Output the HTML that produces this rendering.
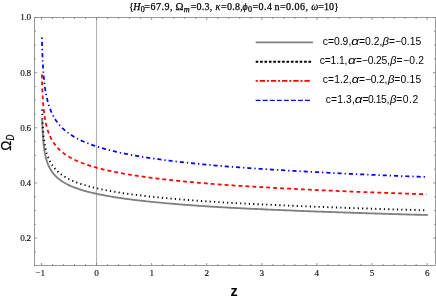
<!DOCTYPE html>
<html><head><meta charset="utf-8"><title>plot</title><style>html,body{margin:0;padding:0;background:#fff;}svg{display:block;}</style></head><body>
<svg width="436" height="299" viewBox="0 0 436 299">
<rect width="436" height="299" fill="#fff"/>
<line x1="96.55" y1="17.5" x2="96.55" y2="265.5" stroke="#adadad" stroke-width="1"/>
<path d="M42.22 119.00 L42.22 119.00 L42.22 119.00 L42.22 119.01 L42.22 119.02 L42.22 119.03 L42.22 119.05 L42.22 119.08 L42.22 119.12 L42.22 119.17 L42.22 119.24 L42.23 119.31 L42.23 119.41 L42.23 119.51 L42.24 119.64 L42.24 119.78 L42.24 119.95 L42.25 120.13 L42.25 120.33 L42.26 120.56 L42.27 120.81 L42.27 121.08 L42.28 121.37 L42.29 121.69 L42.30 122.02 L42.31 122.38 L42.33 122.77 L42.34 123.17 L42.35 123.60 L42.37 124.04 L42.38 124.51 L42.40 125.00 L42.42 125.50 L42.44 126.03 L42.46 126.57 L42.48 127.12 L42.50 127.69 L42.53 128.28 L42.55 128.87 L42.58 129.48 L42.61 130.10 L42.64 130.73 L42.67 131.37 L42.70 132.01 L42.74 132.66 L42.77 133.31 L42.81 133.97 L42.85 134.64 L42.89 135.30 L42.93 135.97 L42.98 136.64 L43.02 137.31 L43.07 137.98 L43.12 138.65 L43.17 139.32 L43.23 139.98 L43.28 140.64 L43.34 141.30 L43.40 141.96 L43.47 142.62 L43.53 143.27 L43.60 143.91 L43.67 144.55 L43.74 145.19 L43.81 145.82 L43.89 146.45 L43.96 147.07 L44.04 147.68 L44.13 148.30 L44.21 148.90 L44.30 149.50 L44.39 150.09 L44.48 150.68 L44.58 151.26 L44.68 151.84 L44.78 152.41 L44.88 152.97 L44.99 153.53 L45.10 154.08 L45.21 154.63 L45.33 155.17 L45.44 155.70 L45.57 156.23 L45.69 156.75 L45.82 157.27 L45.95 157.78 L46.08 158.28 L46.22 158.78 L46.36 159.27 L46.50 159.76 L46.64 160.24 L46.79 160.72 L46.95 161.19 L47.10 161.66 L47.26 162.12 L47.42 162.58 L47.59 163.03 L47.76 163.48 L47.93 163.92 L48.11 164.35 L48.29 164.78 L48.47 165.21 L48.66 165.63 L48.85 166.05 L49.05 166.46 L49.25 166.87 L49.45 167.27 L49.65 167.67 L49.87 168.07 L50.08 168.46 L50.30 168.85 L50.52 169.23 L50.75 169.61 L50.98 169.98 L51.21 170.35 L51.45 170.72 L51.69 171.08 L51.94 171.44 L52.19 171.80 L52.45 172.15 L52.71 172.50 L52.97 172.84 L53.24 173.18 L53.51 173.52 L53.79 173.86 L54.07 174.19 L54.36 174.51 L54.65 174.84 L54.95 175.16 L55.25 175.48 L55.55 175.79 L55.86 176.11 L56.18 176.42 L56.50 176.72 L56.82 177.03 L57.15 177.33 L57.49 177.62 L57.83 177.92 L58.17 178.21 L58.52 178.50 L58.88 178.79 L59.23 179.07 L59.60 179.35 L59.97 179.63 L60.34 179.91 L60.72 180.18 L61.11 180.45 L61.50 180.72 L61.90 180.99 L62.30 181.25 L62.71 181.52 L63.12 181.78 L63.54 182.03 L63.96 182.29 L64.39 182.54 L64.82 182.79 L65.26 183.04 L65.71 183.29 L66.16 183.54 L66.62 183.78 L67.08 184.02 L67.55 184.26 L68.03 184.50 L68.51 184.73 L68.99 184.96 L69.49 185.19 L69.99 185.42 L70.49 185.65 L71.00 185.88 L71.52 186.10 L72.04 186.32 L72.57 186.54 L73.11 186.76 L73.65 186.98 L74.20 187.20 L74.75 187.41 L75.31 187.62 L75.88 187.83 L76.45 188.04 L77.03 188.25 L77.62 188.45 L78.21 188.66 L78.81 188.86 L79.42 189.06 L80.03 189.26 L80.65 189.46 L81.28 189.66 L81.91 189.85 L82.55 190.05 L83.20 190.24 L83.85 190.43 L84.51 190.62 L85.18 190.81 L85.86 191.00 L86.54 191.18 L87.23 191.37 L87.92 191.55 L88.63 191.73 L89.34 191.92 L90.05 192.09 L90.78 192.27 L91.51 192.45 L92.25 192.63 L93.00 192.80 L93.75 192.98 L94.51 193.15 L95.28 193.32 L96.06 193.49 L96.84 193.66 L97.63 193.83 L98.43 193.99 L99.24 194.16 L100.06 194.33 L100.88 194.49 L101.71 194.66 L102.55 194.82 L103.39 194.99 L104.25 195.15 L105.11 195.31 L105.98 195.47 L106.85 195.63 L107.74 195.79 L108.63 195.95 L109.53 196.11 L110.44 196.26 L111.36 196.42 L112.29 196.57 L113.22 196.73 L114.16 196.88 L115.11 197.03 L116.07 197.18 L117.04 197.33 L118.02 197.48 L119.00 197.63 L119.99 197.78 L121.00 197.93 L122.01 198.07 L123.02 198.22 L124.05 198.36 L125.09 198.51 L126.13 198.65 L127.19 198.79 L128.25 198.93 L129.32 199.07 L130.40 199.21 L131.49 199.35 L132.58 199.49 L133.69 199.63 L134.81 199.77 L135.93 199.90 L137.06 200.04 L138.21 200.17 L139.36 200.31 L140.52 200.44 L141.69 200.58 L142.87 200.71 L144.06 200.84 L145.26 200.97 L146.46 201.10 L147.68 201.23 L148.91 201.36 L150.14 201.49 L151.39 201.62 L152.64 201.75 L153.91 201.87 L155.18 202.00 L156.46 202.12 L157.76 202.25 L159.06 202.37 L160.37 202.50 L161.70 202.62 L163.03 202.74 L164.37 202.86 L165.72 202.99 L167.09 203.11 L168.46 203.23 L169.84 203.35 L171.23 203.47 L172.63 203.59 L174.05 203.70 L175.47 203.82 L176.90 203.94 L178.35 204.06 L179.80 204.17 L181.26 204.29 L182.74 204.40 L184.22 204.52 L185.72 204.63 L187.22 204.75 L188.74 204.86 L190.26 204.97 L191.80 205.09 L193.35 205.20 L194.90 205.31 L196.47 205.42 L198.05 205.53 L199.64 205.64 L201.24 205.75 L202.86 205.86 L204.48 205.97 L206.11 206.08 L207.76 206.19 L209.41 206.29 L211.08 206.40 L212.76 206.51 L214.44 206.61 L216.14 206.72 L217.85 206.82 L219.58 206.93 L221.31 207.03 L223.05 207.13 L224.81 207.22 L226.58 207.32 L228.35 207.42 L230.14 207.51 L231.95 207.61 L233.76 207.70 L235.58 207.80 L237.42 207.89 L239.27 207.99 L241.12 208.08 L242.99 208.17 L244.88 208.27 L246.77 208.36 L248.68 208.45 L250.59 208.54 L252.52 208.63 L254.47 208.72 L256.42 208.81 L258.38 208.90 L260.36 208.99 L262.35 209.08 L264.35 209.17 L266.36 209.26 L268.39 209.35 L270.43 209.44 L272.48 209.52 L274.54 209.61 L276.61 209.70 L278.70 209.78 L280.80 209.87 L282.91 209.96 L285.03 210.06 L287.17 210.15 L289.32 210.24 L291.48 210.33 L293.65 210.42 L295.84 210.51 L298.04 210.60 L300.25 210.69 L302.48 210.77 L304.71 210.86 L306.96 210.95 L309.22 211.04 L311.50 211.13 L313.79 211.22 L316.09 211.30 L318.40 211.39 L320.73 211.48 L323.07 211.56 L325.43 211.65 L327.79 211.73 L330.17 211.82 L332.57 211.91 L334.97 211.99 L337.39 212.08 L339.82 212.16 L342.27 212.24 L344.73 212.33 L347.20 212.41 L349.69 212.50 L352.19 212.58 L354.70 212.66 L357.23 212.74 L359.77 212.83 L362.32 212.91 L364.89 212.99 L367.47 213.07 L370.07 213.16 L372.68 213.24 L375.30 213.32 L377.93 213.40 L380.59 213.48 L383.25 213.56 L385.93 213.64 L388.62 213.72 L391.33 213.80 L394.05 213.88 L396.78 213.96 L399.53 214.04 L402.29 214.12 L405.07 214.20 L407.86 214.27 L410.67 214.35 L413.49 214.43 L416.32 214.51 L419.17 214.59 L422.03 214.66 L424.91 214.73 L427.80 214.80" fill="none" stroke="#808080" stroke-width="1.85" transform="translate(0 0.2)"/>
<path d="M42.11 109.50 L42.11 109.50 L42.11 109.50 L42.11 109.51 L42.11 109.51 L42.11 109.53 L42.11 109.55 L42.11 109.58 L42.11 109.62 L42.11 109.67 L42.11 109.73 L42.12 109.80 L42.12 109.89 L42.12 110.00 L42.12 110.12 L42.13 110.26 L42.13 110.41 L42.14 110.59 L42.14 110.79 L42.15 111.01 L42.16 111.25 L42.16 111.51 L42.17 111.80 L42.18 112.11 L42.19 112.44 L42.20 112.79 L42.21 113.17 L42.23 113.57 L42.24 113.99 L42.26 114.43 L42.27 114.89 L42.29 115.38 L42.31 115.88 L42.33 116.41 L42.35 116.95 L42.37 117.50 L42.39 118.08 L42.41 118.67 L42.44 119.27 L42.47 119.89 L42.50 120.52 L42.53 121.16 L42.56 121.81 L42.59 122.47 L42.62 123.14 L42.66 123.82 L42.70 124.50 L42.74 125.18 L42.78 125.87 L42.82 126.57 L42.86 127.26 L42.91 127.96 L42.96 128.66 L43.01 129.36 L43.06 130.06 L43.12 130.76 L43.17 131.46 L43.23 132.15 L43.29 132.85 L43.35 133.54 L43.42 134.23 L43.48 134.91 L43.55 135.59 L43.62 136.27 L43.69 136.94 L43.77 137.61 L43.85 138.27 L43.93 138.92 L44.01 139.58 L44.10 140.22 L44.18 140.86 L44.27 141.50 L44.37 142.12 L44.46 142.75 L44.56 143.36 L44.66 143.97 L44.77 144.58 L44.87 145.18 L44.98 145.77 L45.09 146.36 L45.21 146.94 L45.32 147.51 L45.45 148.08 L45.57 148.64 L45.70 149.20 L45.83 149.74 L45.96 150.29 L46.09 150.83 L46.23 151.36 L46.38 151.88 L46.52 152.40 L46.67 152.92 L46.82 153.43 L46.98 153.93 L47.14 154.43 L47.30 154.92 L47.46 155.40 L47.63 155.89 L47.81 156.36 L47.98 156.83 L48.16 157.30 L48.34 157.76 L48.53 158.21 L48.72 158.66 L48.92 159.11 L49.12 159.55 L49.32 159.98 L49.52 160.41 L49.73 160.84 L49.95 161.26 L50.16 161.68 L50.39 162.09 L50.61 162.50 L50.84 162.90 L51.08 163.30 L51.31 163.69 L51.56 164.08 L51.80 164.47 L52.05 164.85 L52.31 165.23 L52.57 165.61 L52.83 165.98 L53.10 166.35 L53.37 166.71 L53.65 167.07 L53.93 167.43 L54.22 167.78 L54.51 168.13 L54.80 168.47 L55.10 168.82 L55.41 169.15 L55.72 169.49 L56.03 169.82 L56.35 170.15 L56.67 170.48 L57.00 170.80 L57.33 171.12 L57.67 171.44 L58.02 171.75 L58.36 172.06 L58.72 172.37 L59.08 172.67 L59.44 172.98 L59.81 173.28 L60.18 173.57 L60.56 173.87 L60.95 174.16 L61.34 174.45 L61.73 174.73 L62.13 175.01 L62.54 175.30 L62.95 175.57 L63.37 175.85 L63.79 176.12 L64.22 176.39 L64.65 176.66 L65.09 176.93 L65.53 177.19 L65.98 177.46 L66.44 177.72 L66.90 177.97 L67.37 178.23 L67.84 178.48 L68.32 178.73 L68.81 178.98 L69.30 179.23 L69.80 179.47 L70.30 179.72 L70.81 179.96 L71.32 180.20 L71.85 180.43 L72.37 180.67 L72.91 180.90 L73.45 181.13 L74.00 181.36 L74.55 181.59 L75.11 181.82 L75.67 182.04 L76.25 182.26 L76.82 182.49 L77.41 182.70 L78.00 182.92 L78.60 183.14 L79.20 183.35 L79.82 183.57 L80.43 183.78 L81.06 183.99 L81.69 184.19 L82.33 184.40 L82.97 184.60 L83.63 184.81 L84.28 185.01 L84.95 185.21 L85.62 185.41 L86.30 185.61 L86.99 185.80 L87.68 186.00 L88.39 186.19 L89.09 186.38 L89.81 186.57 L90.53 186.76 L91.26 186.95 L92.00 187.14 L92.74 187.32 L93.50 187.51 L94.26 187.69 L95.02 187.87 L95.80 188.05 L96.58 188.23 L97.37 188.41 L98.16 188.59 L98.97 188.76 L99.78 188.94 L100.60 189.11 L101.43 189.29 L102.26 189.46 L103.11 189.64 L103.96 189.81 L104.82 189.98 L105.69 190.15 L106.56 190.32 L107.44 190.49 L108.33 190.65 L109.23 190.82 L110.14 190.99 L111.06 191.15 L111.98 191.31 L112.91 191.47 L113.85 191.64 L114.80 191.80 L115.75 191.95 L116.72 192.11 L117.69 192.27 L118.67 192.43 L119.66 192.58 L120.66 192.74 L121.67 192.89 L122.69 193.04 L123.71 193.20 L124.74 193.35 L125.78 193.50 L126.83 193.65 L127.89 193.80 L128.96 193.94 L130.04 194.09 L131.12 194.24 L132.22 194.38 L133.32 194.53 L134.43 194.67 L135.56 194.82 L136.69 194.96 L137.83 195.10 L138.97 195.24 L140.13 195.38 L141.30 195.52 L142.47 195.66 L143.66 195.80 L144.85 195.94 L146.06 196.07 L147.27 196.21 L148.50 196.35 L149.73 196.48 L150.97 196.61 L152.22 196.75 L153.48 196.88 L154.75 197.01 L156.03 197.14 L157.32 197.27 L158.62 197.41 L159.93 197.53 L161.25 197.66 L162.58 197.79 L163.92 197.92 L165.26 198.05 L166.62 198.17 L167.99 198.30 L169.37 198.42 L170.76 198.55 L172.16 198.67 L173.56 198.80 L174.98 198.92 L176.41 199.04 L177.85 199.17 L179.30 199.29 L180.76 199.41 L182.23 199.53 L183.71 199.65 L185.20 199.77 L186.70 199.89 L188.21 200.00 L189.73 200.12 L191.27 200.24 L192.81 200.36 L194.36 200.47 L195.93 200.59 L197.50 200.70 L199.09 200.82 L200.68 200.93 L202.29 201.05 L203.91 201.16 L205.54 201.27 L207.18 201.38 L208.83 201.50 L210.49 201.61 L212.16 201.72 L213.85 201.83 L215.54 201.94 L217.25 202.05 L218.96 202.16 L220.69 202.27 L222.43 202.37 L224.18 202.47 L225.94 202.57 L227.72 202.67 L229.50 202.77 L231.30 202.87 L233.11 202.97 L234.93 203.07 L236.76 203.17 L238.60 203.26 L240.45 203.36 L242.32 203.46 L244.19 203.55 L246.08 203.65 L247.98 203.75 L249.90 203.84 L251.82 203.94 L253.75 204.03 L255.70 204.12 L257.66 204.22 L259.63 204.31 L261.62 204.40 L263.61 204.50 L265.62 204.59 L267.64 204.68 L269.67 204.77 L271.72 204.86 L273.77 204.95 L275.84 205.04 L277.92 205.13 L280.01 205.22 L282.12 205.32 L284.24 205.41 L286.37 205.51 L288.51 205.60 L290.67 205.69 L292.83 205.79 L295.01 205.88 L297.21 205.97 L299.41 206.06 L301.63 206.16 L303.86 206.25 L306.10 206.34 L308.36 206.43 L310.63 206.52 L312.91 206.61 L315.21 206.70 L317.51 206.79 L319.83 206.88 L322.17 206.97 L324.52 207.06 L326.88 207.15 L329.25 207.24 L331.63 207.32 L334.03 207.41 L336.45 207.50 L338.87 207.59 L341.31 207.67 L343.76 207.76 L346.23 207.85 L348.71 207.93 L351.20 208.02 L353.71 208.11 L356.23 208.19 L358.76 208.28 L361.31 208.36 L363.87 208.45 L366.44 208.53 L369.03 208.61 L371.63 208.70 L374.25 208.78 L376.88 208.86 L379.52 208.95 L382.18 209.03 L384.85 209.11 L387.53 209.20 L390.23 209.28 L392.94 209.36 L395.67 209.44 L398.41 209.52 L401.16 209.60 L403.93 209.69 L406.72 209.77 L409.51 209.85 L412.33 209.93 L415.15 210.01 L417.99 210.09 L420.85 210.16 L423.72 210.24 L426.60 210.31" fill="none" stroke="#000" stroke-width="1.9" stroke-dasharray="1.2 3.16"/>
<path d="M41.89 74.50 L41.89 74.50 L41.89 74.50 L41.89 74.51 L41.89 74.52 L41.89 74.53 L41.89 74.56 L41.90 74.59 L41.90 74.64 L41.90 74.70 L41.90 74.78 L41.90 74.87 L41.90 74.97 L41.91 75.10 L41.91 75.25 L41.91 75.42 L41.92 75.61 L41.92 75.82 L41.93 76.06 L41.93 76.33 L41.94 76.62 L41.95 76.94 L41.96 77.28 L41.97 77.65 L41.98 78.05 L41.99 78.48 L42.00 78.93 L42.01 79.41 L42.03 79.92 L42.04 80.45 L42.06 81.01 L42.07 81.59 L42.09 82.19 L42.11 82.82 L42.13 83.47 L42.15 84.13 L42.18 84.82 L42.20 85.52 L42.23 86.24 L42.25 86.98 L42.28 87.73 L42.31 88.49 L42.34 89.26 L42.37 90.04 L42.41 90.83 L42.44 91.63 L42.48 92.44 L42.52 93.25 L42.56 94.07 L42.61 94.89 L42.65 95.71 L42.70 96.53 L42.74 97.36 L42.79 98.18 L42.85 99.00 L42.90 99.83 L42.96 100.65 L43.01 101.46 L43.07 102.28 L43.14 103.09 L43.20 103.90 L43.27 104.70 L43.34 105.50 L43.41 106.29 L43.48 107.08 L43.56 107.86 L43.63 108.64 L43.71 109.41 L43.80 110.17 L43.88 110.93 L43.97 111.68 L44.06 112.42 L44.15 113.16 L44.25 113.89 L44.35 114.61 L44.45 115.32 L44.55 116.03 L44.66 116.73 L44.77 117.43 L44.88 118.11 L44.99 118.79 L45.11 119.46 L45.23 120.13 L45.35 120.79 L45.48 121.44 L45.61 122.08 L45.74 122.72 L45.88 123.35 L46.02 123.97 L46.16 124.59 L46.31 125.20 L46.45 125.80 L46.61 126.40 L46.76 126.99 L46.92 127.57 L47.08 128.15 L47.25 128.72 L47.42 129.28 L47.59 129.84 L47.77 130.39 L47.95 130.94 L48.13 131.48 L48.32 132.01 L48.51 132.54 L48.70 133.06 L48.90 133.58 L49.10 134.09 L49.31 134.60 L49.52 135.10 L49.73 135.60 L49.95 136.09 L50.17 136.57 L50.40 137.05 L50.63 137.53 L50.86 138.00 L51.10 138.46 L51.34 138.92 L51.59 139.38 L51.84 139.83 L52.09 140.28 L52.35 140.72 L52.62 141.16 L52.88 141.59 L53.16 142.02 L53.43 142.45 L53.72 142.87 L54.00 143.28 L54.29 143.69 L54.59 144.10 L54.89 144.51 L55.19 144.91 L55.50 145.30 L55.82 145.70 L56.13 146.09 L56.46 146.47 L56.79 146.85 L57.12 147.23 L57.46 147.61 L57.80 147.98 L58.15 148.35 L58.50 148.71 L58.86 149.07 L59.23 149.43 L59.59 149.79 L59.97 150.14 L60.35 150.49 L60.73 150.83 L61.12 151.17 L61.52 151.51 L61.92 151.85 L62.32 152.18 L62.73 152.51 L63.15 152.84 L63.57 153.17 L64.00 153.49 L64.43 153.81 L64.87 154.13 L65.32 154.44 L65.77 154.75 L66.22 155.06 L66.69 155.37 L67.15 155.67 L67.63 155.97 L68.11 156.27 L68.59 156.57 L69.08 156.86 L69.58 157.15 L70.09 157.44 L70.60 157.73 L71.11 158.02 L71.63 158.30 L72.16 158.58 L72.69 158.86 L73.23 159.13 L73.78 159.41 L74.33 159.68 L74.89 159.95 L75.46 160.22 L76.03 160.48 L76.61 160.75 L77.20 161.01 L77.79 161.27 L78.39 161.53 L78.99 161.78 L79.60 162.04 L80.22 162.29 L80.84 162.54 L81.48 162.79 L82.11 163.04 L82.76 163.28 L83.41 163.53 L84.07 163.77 L84.74 164.01 L85.41 164.25 L86.09 164.48 L86.78 164.72 L87.47 164.95 L88.17 165.18 L88.88 165.41 L89.60 165.64 L90.32 165.87 L91.05 166.10 L91.79 166.32 L92.53 166.54 L93.28 166.76 L94.04 166.98 L94.81 167.20 L95.58 167.42 L96.37 167.63 L97.15 167.85 L97.95 168.06 L98.76 168.27 L99.57 168.48 L100.39 168.69 L101.22 168.90 L102.05 169.11 L102.90 169.32 L103.75 169.53 L104.61 169.73 L105.47 169.94 L106.35 170.14 L107.23 170.34 L108.12 170.54 L109.02 170.74 L109.93 170.94 L110.84 171.13 L111.77 171.33 L112.70 171.53 L113.64 171.72 L114.59 171.91 L115.54 172.10 L116.51 172.29 L117.48 172.48 L118.46 172.67 L119.45 172.86 L120.45 173.04 L121.46 173.23 L122.47 173.41 L123.50 173.60 L124.53 173.78 L125.57 173.96 L126.62 174.14 L127.68 174.32 L128.75 174.50 L129.83 174.67 L130.91 174.85 L132.01 175.02 L133.11 175.20 L134.22 175.37 L135.34 175.54 L136.47 175.72 L137.61 175.89 L138.76 176.06 L139.92 176.23 L141.09 176.39 L142.26 176.56 L143.45 176.73 L144.64 176.89 L145.85 177.06 L147.06 177.22 L148.28 177.39 L149.52 177.55 L150.76 177.71 L152.01 177.87 L153.27 178.03 L154.54 178.19 L155.82 178.35 L157.11 178.51 L158.41 178.66 L159.72 178.82 L161.04 178.98 L162.37 179.13 L163.71 179.28 L165.05 179.44 L166.41 179.59 L167.78 179.74 L169.16 179.89 L170.55 180.04 L171.95 180.19 L173.35 180.34 L174.77 180.49 L176.20 180.64 L177.64 180.79 L179.09 180.93 L180.55 181.08 L182.02 181.22 L183.50 181.37 L184.99 181.51 L186.49 181.66 L188.00 181.80 L189.52 181.94 L191.06 182.08 L192.60 182.22 L194.15 182.36 L195.72 182.50 L197.29 182.64 L198.88 182.78 L200.48 182.92 L202.08 183.06 L203.70 183.19 L205.33 183.33 L206.97 183.47 L208.62 183.60 L210.28 183.73 L211.95 183.87 L213.64 184.00 L215.33 184.14 L217.04 184.27 L218.76 184.40 L220.48 184.53 L222.22 184.65 L223.97 184.78 L225.74 184.90 L227.51 185.02 L229.30 185.15 L231.09 185.27 L232.90 185.39 L234.72 185.51 L236.55 185.63 L238.39 185.75 L240.24 185.87 L242.11 185.99 L243.99 186.10 L245.88 186.22 L247.78 186.34 L249.69 186.45 L251.61 186.57 L253.55 186.69 L255.50 186.80 L257.46 186.92 L259.43 187.03 L261.41 187.14 L263.41 187.26 L265.41 187.37 L267.43 187.48 L269.47 187.59 L271.51 187.70 L273.57 187.81 L275.63 187.93 L277.72 188.04 L279.81 188.14 L281.91 188.26 L284.03 188.37 L286.16 188.49 L288.30 188.60 L290.46 188.71 L292.63 188.83 L294.81 188.94 L297.00 189.05 L299.21 189.16 L301.42 189.28 L303.66 189.39 L305.90 189.50 L308.16 189.61 L310.42 189.72 L312.71 189.83 L315.00 189.94 L317.31 190.05 L319.63 190.15 L321.96 190.26 L324.31 190.37 L326.67 190.48 L329.04 190.58 L331.43 190.69 L333.83 190.80 L336.24 190.90 L338.67 191.01 L341.11 191.11 L343.56 191.22 L346.03 191.32 L348.51 191.43 L351.00 191.53 L353.51 191.64 L356.02 191.74 L358.56 191.84 L361.11 191.94 L363.67 192.05 L366.24 192.15 L368.83 192.25 L371.43 192.35 L374.04 192.45 L376.67 192.55 L379.32 192.66 L381.97 192.76 L384.64 192.86 L387.33 192.96 L390.03 193.05 L392.74 193.15 L395.47 193.25 L398.21 193.35 L400.96 193.45 L403.73 193.55 L406.52 193.65 L409.31 193.74 L412.13 193.84 L414.95 193.94 L417.79 194.03 L420.65 194.13 L423.52 194.22 L426.40 194.30" fill="none" stroke="#f00" stroke-width="1.75" stroke-dasharray="3.9 3.05"/>
<path d="M41.90 37.60 L41.90 37.60 L41.90 37.60 L41.90 37.61 L41.90 37.62 L41.90 37.63 L41.90 37.66 L41.90 37.70 L41.90 37.74 L41.91 37.80 L41.91 37.88 L41.91 37.97 L41.91 38.08 L41.91 38.20 L41.92 38.35 L41.92 38.52 L41.93 38.72 L41.93 38.93 L41.94 39.18 L41.94 39.45 L41.95 39.74 L41.96 40.07 L41.97 40.42 L41.97 40.80 L41.98 41.21 L42.00 41.65 L42.01 42.12 L42.02 42.62 L42.03 43.15 L42.05 43.70 L42.06 44.29 L42.08 44.90 L42.10 45.54 L42.12 46.20 L42.14 46.90 L42.16 47.61 L42.18 48.35 L42.21 49.11 L42.23 49.89 L42.26 50.69 L42.29 51.51 L42.32 52.35 L42.35 53.20 L42.38 54.06 L42.42 54.94 L42.45 55.84 L42.49 56.74 L42.53 57.65 L42.57 58.57 L42.61 59.50 L42.66 60.44 L42.71 61.37 L42.75 62.32 L42.80 63.26 L42.86 64.21 L42.91 65.16 L42.97 66.11 L43.02 67.06 L43.08 68.01 L43.15 68.96 L43.21 69.90 L43.28 70.84 L43.35 71.78 L43.42 72.71 L43.49 73.64 L43.57 74.57 L43.64 75.49 L43.72 76.40 L43.81 77.30 L43.89 78.21 L43.98 79.10 L44.07 79.99 L44.16 80.87 L44.26 81.74 L44.36 82.60 L44.46 83.46 L44.56 84.31 L44.67 85.15 L44.78 85.99 L44.89 86.81 L45.01 87.63 L45.12 88.44 L45.24 89.24 L45.37 90.04 L45.49 90.82 L45.62 91.60 L45.76 92.37 L45.89 93.13 L46.03 93.89 L46.17 94.63 L46.32 95.37 L46.47 96.10 L46.62 96.82 L46.78 97.54 L46.94 98.24 L47.10 98.94 L47.26 99.64 L47.43 100.32 L47.61 101.00 L47.78 101.67 L47.96 102.33 L48.15 102.98 L48.33 103.63 L48.53 104.27 L48.72 104.91 L48.92 105.54 L49.12 106.16 L49.33 106.77 L49.54 107.38 L49.75 107.98 L49.97 108.58 L50.19 109.16 L50.42 109.75 L50.65 110.32 L50.88 110.89 L51.12 111.46 L51.36 112.01 L51.61 112.57 L51.86 113.11 L52.12 113.65 L52.38 114.19 L52.64 114.72 L52.91 115.24 L53.18 115.76 L53.46 116.28 L53.74 116.79 L54.03 117.29 L54.32 117.79 L54.62 118.28 L54.92 118.77 L55.22 119.25 L55.53 119.73 L55.84 120.21 L56.16 120.68 L56.49 121.14 L56.82 121.60 L57.15 122.06 L57.49 122.51 L57.83 122.96 L58.18 123.40 L58.54 123.84 L58.90 124.28 L59.26 124.71 L59.63 125.13 L60.00 125.56 L60.38 125.98 L60.77 126.39 L61.16 126.80 L61.55 127.21 L61.96 127.62 L62.36 128.02 L62.77 128.41 L63.19 128.81 L63.61 129.20 L64.04 129.58 L64.48 129.97 L64.92 130.34 L65.36 130.72 L65.81 131.09 L66.27 131.46 L66.73 131.83 L67.20 132.19 L67.68 132.56 L68.16 132.91 L68.64 133.27 L69.13 133.62 L69.63 133.97 L70.14 134.31 L70.65 134.66 L71.16 135.00 L71.69 135.33 L72.22 135.67 L72.75 136.00 L73.29 136.33 L73.84 136.66 L74.39 136.98 L74.95 137.30 L75.52 137.62 L76.09 137.94 L76.67 138.25 L77.26 138.56 L77.85 138.87 L78.45 139.18 L79.06 139.48 L79.67 139.78 L80.29 140.08 L80.91 140.38 L81.55 140.67 L82.18 140.97 L82.83 141.26 L83.48 141.55 L84.14 141.83 L84.81 142.12 L85.48 142.40 L86.17 142.68 L86.85 142.96 L87.55 143.23 L88.25 143.51 L88.96 143.78 L89.68 144.05 L90.40 144.32 L91.13 144.59 L91.87 144.85 L92.62 145.11 L93.37 145.37 L94.13 145.63 L94.90 145.89 L95.67 146.14 L96.46 146.40 L97.25 146.65 L98.05 146.90 L98.85 147.15 L99.67 147.40 L100.49 147.64 L101.32 147.89 L102.15 148.14 L103.00 148.38 L103.85 148.62 L104.71 148.86 L105.58 149.10 L106.45 149.34 L107.34 149.57 L108.23 149.81 L109.13 150.04 L110.04 150.27 L110.96 150.50 L111.88 150.73 L112.81 150.96 L113.76 151.18 L114.71 151.41 L115.66 151.63 L116.63 151.85 L117.60 152.07 L118.59 152.29 L119.58 152.51 L120.58 152.73 L121.59 152.94 L122.61 153.16 L123.63 153.37 L124.67 153.58 L125.71 153.79 L126.76 154.00 L127.82 154.21 L128.89 154.42 L129.97 154.62 L131.06 154.83 L132.15 155.03 L133.26 155.23 L134.37 155.43 L135.50 155.63 L136.63 155.83 L137.77 156.03 L138.92 156.23 L140.08 156.42 L141.25 156.62 L142.43 156.81 L143.61 157.00 L144.81 157.20 L146.02 157.39 L147.23 157.58 L148.46 157.76 L149.69 157.95 L150.93 158.14 L152.19 158.32 L153.45 158.51 L154.72 158.69 L156.00 158.88 L157.30 159.06 L158.60 159.24 L159.91 159.42 L161.23 159.60 L162.56 159.78 L163.90 159.95 L165.25 160.13 L166.61 160.30 L167.98 160.48 L169.36 160.65 L170.75 160.83 L172.15 161.00 L173.56 161.17 L174.99 161.34 L176.42 161.51 L177.86 161.68 L179.31 161.85 L180.77 162.01 L182.24 162.18 L183.73 162.35 L185.22 162.51 L186.72 162.67 L188.24 162.84 L189.76 163.00 L191.29 163.16 L192.84 163.32 L194.40 163.48 L195.96 163.64 L197.54 163.80 L199.13 163.96 L200.73 164.12 L202.34 164.28 L203.96 164.43 L205.59 164.59 L207.23 164.74 L208.88 164.90 L210.55 165.05 L212.22 165.20 L213.91 165.35 L215.61 165.51 L217.32 165.66 L219.04 165.81 L220.77 165.95 L222.51 166.10 L224.26 166.24 L226.03 166.38 L227.80 166.52 L229.59 166.66 L231.39 166.80 L233.20 166.94 L235.02 167.07 L236.86 167.21 L238.70 167.35 L240.56 167.48 L242.43 167.62 L244.31 167.75 L246.20 167.89 L248.10 168.02 L250.02 168.15 L251.94 168.29 L253.88 168.42 L255.83 168.55 L257.80 168.68 L259.77 168.81 L261.76 168.94 L263.76 169.07 L265.77 169.20 L267.79 169.32 L269.82 169.45 L271.87 169.58 L273.93 169.70 L276.00 169.83 L278.09 169.95 L280.18 170.08 L282.29 170.21 L284.41 170.34 L286.55 170.47 L288.69 170.59 L290.85 170.72 L293.02 170.85 L295.21 170.98 L297.40 171.10 L299.61 171.23 L301.83 171.36 L304.07 171.48 L306.31 171.60 L308.57 171.73 L310.85 171.85 L313.13 171.98 L315.43 172.10 L317.74 172.22 L320.07 172.34 L322.40 172.46 L324.75 172.59 L327.12 172.71 L329.49 172.83 L331.88 172.95 L334.29 173.07 L336.70 173.18 L339.13 173.30 L341.58 173.42 L344.03 173.54 L346.50 173.66 L348.99 173.77 L351.48 173.89 L353.99 174.01 L356.52 174.12 L359.05 174.24 L361.60 174.35 L364.17 174.47 L366.75 174.58 L369.34 174.70 L371.94 174.81 L374.56 174.92 L377.20 175.03 L379.84 175.15 L382.51 175.26 L385.18 175.37 L387.87 175.48 L390.57 175.59 L393.29 175.70 L396.02 175.81 L398.76 175.92 L401.52 176.03 L404.30 176.14 L407.09 176.25 L409.89 176.36 L412.70 176.47 L415.53 176.58 L418.38 176.68 L421.24 176.79 L424.11 176.89 L427.00 176.99" fill="none" stroke="#00f" stroke-width="1.75" stroke-dasharray="4.1 2.95 1.3 2.95" stroke-dashoffset="7.05"/>
<rect x="34.5" y="17.5" width="401.0" height="248.0" fill="none" stroke="#8e8e8e" stroke-width="0.9"/>
<path d="M41.45 265.5 v-2.5 M41.45 17.5 v2.5 M52.47 265.5 v-1.5 M52.47 17.5 v1.5 M63.49 265.5 v-1.5 M63.49 17.5 v1.5 M74.51 265.5 v-1.5 M74.51 17.5 v1.5 M85.53 265.5 v-1.5 M85.53 17.5 v1.5 M96.55 265.5 v-2.5 M96.55 17.5 v2.5 M107.57 265.5 v-1.5 M107.57 17.5 v1.5 M118.59 265.5 v-1.5 M118.59 17.5 v1.5 M129.61 265.5 v-1.5 M129.61 17.5 v1.5 M140.63 265.5 v-1.5 M140.63 17.5 v1.5 M151.65 265.5 v-2.5 M151.65 17.5 v2.5 M162.67 265.5 v-1.5 M162.67 17.5 v1.5 M173.69 265.5 v-1.5 M173.69 17.5 v1.5 M184.71 265.5 v-1.5 M184.71 17.5 v1.5 M195.73 265.5 v-1.5 M195.73 17.5 v1.5 M206.75 265.5 v-2.5 M206.75 17.5 v2.5 M217.77 265.5 v-1.5 M217.77 17.5 v1.5 M228.79 265.5 v-1.5 M228.79 17.5 v1.5 M239.81 265.5 v-1.5 M239.81 17.5 v1.5 M250.83 265.5 v-1.5 M250.83 17.5 v1.5 M261.85 265.5 v-2.5 M261.85 17.5 v2.5 M272.87 265.5 v-1.5 M272.87 17.5 v1.5 M283.89 265.5 v-1.5 M283.89 17.5 v1.5 M294.91 265.5 v-1.5 M294.91 17.5 v1.5 M305.93 265.5 v-1.5 M305.93 17.5 v1.5 M316.95 265.5 v-2.5 M316.95 17.5 v2.5 M327.97 265.5 v-1.5 M327.97 17.5 v1.5 M338.99 265.5 v-1.5 M338.99 17.5 v1.5 M350.01 265.5 v-1.5 M350.01 17.5 v1.5 M361.03 265.5 v-1.5 M361.03 17.5 v1.5 M372.05 265.5 v-2.5 M372.05 17.5 v2.5 M383.07 265.5 v-1.5 M383.07 17.5 v1.5 M394.09 265.5 v-1.5 M394.09 17.5 v1.5 M405.11 265.5 v-1.5 M405.11 17.5 v1.5 M416.13 265.5 v-1.5 M416.13 17.5 v1.5 M427.15 265.5 v-2.5 M427.15 17.5 v2.5 M34.5 251.93 h1.5 M435.5 251.93 h-1.5 M34.5 238.14 h2.5 M435.5 238.14 h-2.5 M34.5 224.35 h1.5 M435.5 224.35 h-1.5 M34.5 210.56 h1.5 M435.5 210.56 h-1.5 M34.5 196.77 h1.5 M435.5 196.77 h-1.5 M34.5 182.98 h2.5 M435.5 182.98 h-2.5 M34.5 169.19 h1.5 M435.5 169.19 h-1.5 M34.5 155.40 h1.5 M435.5 155.40 h-1.5 M34.5 141.61 h1.5 M435.5 141.61 h-1.5 M34.5 127.82 h2.5 M435.5 127.82 h-2.5 M34.5 114.03 h1.5 M435.5 114.03 h-1.5 M34.5 100.24 h1.5 M435.5 100.24 h-1.5 M34.5 86.45 h1.5 M435.5 86.45 h-1.5 M34.5 72.66 h2.5 M435.5 72.66 h-2.5 M34.5 58.87 h1.5 M435.5 58.87 h-1.5 M34.5 45.08 h1.5 M435.5 45.08 h-1.5 M34.5 31.29 h1.5 M435.5 31.29 h-1.5 M34.5 17.50 h2.5 M435.5 17.50 h-2.5" stroke="#7c7c7c" stroke-width="0.8" fill="none"/>
<line x1="255.7" y1="42.4" x2="312.9" y2="42.4" stroke="#7f7f7f" stroke-width="1.6"/>
<line x1="255.7" y1="61.7" x2="311.2" y2="61.7" stroke="#000" stroke-width="1.9" stroke-dasharray="2.6 1.8"/>
<line x1="255.7" y1="80.8" x2="310.8" y2="80.8" stroke="#f00" stroke-width="1.8" stroke-dasharray="2 1.9 5.4 1.9"/>
<line x1="255.7" y1="100.3" x2="310" y2="100.3" stroke="#00f" stroke-width="1.25" stroke-dasharray="4.85 2.2"/>
<defs><filter id="gs" x="0" y="0" width="436" height="299" filterUnits="userSpaceOnUse" color-interpolation-filters="sRGB"><feColorMatrix type="saturate" values="0"/></filter></defs>
<g filter="url(#gs)">
<g font-family="Liberation Serif, serif" font-size="9.2" fill="#000" stroke="#000" stroke-width="0.1">
<text x="30.8" y="20.35" text-anchor="end" letter-spacing="-0.3">1.0</text>
<text x="30.8" y="75.51" text-anchor="end" letter-spacing="-0.3">0.8</text>
<text x="30.8" y="130.67" text-anchor="end" letter-spacing="-0.3">0.6</text>
<text x="30.8" y="185.83" text-anchor="end" letter-spacing="-0.3">0.4</text>
<text x="30.8" y="240.99" text-anchor="end" letter-spacing="-0.3">0.2</text>
<text x="40.2" y="275.9" text-anchor="middle">−1</text>
<text x="96.5" y="275.9" text-anchor="middle">0</text>
<text x="151.7" y="275.9" text-anchor="middle">1</text>
<text x="206.8" y="275.9" text-anchor="middle">2</text>
<text x="261.9" y="275.9" text-anchor="middle">3</text>
<text x="316.9" y="275.9" text-anchor="middle">4</text>
<text x="372.1" y="275.9" text-anchor="middle">5</text>
<text x="427.2" y="275.9" text-anchor="middle">6</text>
</g>
<g fill="#000" stroke="#000" stroke-width="0.25">
<text x="128.94" y="10.0" font-family="Liberation Serif, serif" font-size="10">{</text>
<text x="133.31" y="10.0" font-family="Liberation Serif, serif" font-size="10" font-style="italic">H</text>
<text x="140.80" y="11.6" font-family="Liberation Serif, serif" font-size="8">0</text>
<text x="144.30" y="10.0" font-family="Liberation Serif, serif" font-size="10" textLength="28.27" lengthAdjust="spacing">=67.9,</text>
<text x="175.44" y="10.0" font-family="Liberation Serif, serif" font-size="10.8">Ω</text>
<text x="183.70" y="11.6" font-family="Liberation Serif, serif" font-size="8.3" font-style="italic">m</text>
<text x="190.70" y="10.0" font-family="Liberation Serif, serif" font-size="10" textLength="21.63" lengthAdjust="spacing">=0.3,</text>
<text x="215.53" y="10.0" font-family="Liberation Serif, serif" font-size="10" font-style="italic">κ</text>
<text x="221.10" y="10.0" font-family="Liberation Serif, serif" font-size="10" textLength="21.75" lengthAdjust="spacing">=0.8,</text>
<text x="242.57" y="10.0" font-family="Liberation Serif, serif" font-size="10" font-style="italic">ϕ</text>
<text x="248.10" y="11.6" font-family="Liberation Serif, serif" font-size="8">0</text>
<text x="252.40" y="10.0" font-family="Liberation Serif, serif" font-size="10" textLength="19.49" lengthAdjust="spacing">=0.4</text>
<text x="274.57" y="10.0" font-family="Liberation Serif, serif" font-size="10" textLength="33.35" lengthAdjust="spacing">n=0.06,</text>
<text x="311.17" y="10.0" font-family="Liberation Serif, serif" font-size="10" font-style="italic">ω</text>
<text x="318.20" y="10.0" font-family="Liberation Serif, serif" font-size="10" textLength="20.66" lengthAdjust="spacing">=10}</text>
</g>
<g fill="#000">
<text x="322.76" y="44.6" font-family="Liberation Sans, sans-serif" font-size="10.3" textLength="28.49" lengthAdjust="spacing">c=0.9,</text>
<text transform="translate(351.24 44.6) scale(1.319 1)" font-family="Liberation Sans, sans-serif" font-size="10.3" font-style="italic">α</text>
<text x="359.10" y="44.6" font-family="Liberation Sans, sans-serif" font-size="10.3" textLength="23.24" lengthAdjust="spacing">=0.2,</text>
<text transform="translate(382.48 44.6) scale(1.105 1)" font-family="Liberation Sans, sans-serif" font-size="10.3" font-style="italic">β</text>
<text x="388.90" y="44.6" font-family="Liberation Sans, sans-serif" font-size="10.3" textLength="32.39" lengthAdjust="spacing">=−0.15</text>
<text x="319.66" y="63.5" font-family="Liberation Sans, sans-serif" font-size="10.3" textLength="27.77" lengthAdjust="spacing">c=1.1,</text>
<text transform="translate(348.03 63.5) scale(1.336 1)" font-family="Liberation Sans, sans-serif" font-size="10.3" font-style="italic">α</text>
<text x="356.00" y="63.5" font-family="Liberation Sans, sans-serif" font-size="10.3" textLength="33.88" lengthAdjust="spacing">=−0.25,</text>
<text transform="translate(390.36 63.5) scale(1.054 1)" font-family="Liberation Sans, sans-serif" font-size="10.3" font-style="italic">β</text>
<text x="396.60" y="63.5" font-family="Liberation Sans, sans-serif" font-size="10.3" textLength="27.44" lengthAdjust="spacing">=−0.2</text>
<text x="322.76" y="83.3" font-family="Liberation Sans, sans-serif" font-size="10.3" textLength="28.97" lengthAdjust="spacing">c=1.2,</text>
<text transform="translate(351.66 83.3) scale(1.249 1)" font-family="Liberation Sans, sans-serif" font-size="10.3" font-style="italic">α</text>
<text x="359.10" y="83.3" font-family="Liberation Sans, sans-serif" font-size="10.3" textLength="28.39" lengthAdjust="spacing">=−0.2,</text>
<text transform="translate(387.97 83.3) scale(1.088 1)" font-family="Liberation Sans, sans-serif" font-size="10.3" font-style="italic">β</text>
<text x="394.20" y="83.3" font-family="Liberation Sans, sans-serif" font-size="10.3" textLength="27.03" lengthAdjust="spacing">=0.15</text>
<text x="325.81" y="102.6" font-family="Liberation Sans, sans-serif" font-size="10.3" textLength="29.03" lengthAdjust="spacing">c=1.3,</text>
<text transform="translate(354.64 102.6) scale(1.319 1)" font-family="Liberation Sans, sans-serif" font-size="10.3" font-style="italic">α</text>
<text x="362.50" y="102.6" font-family="Liberation Sans, sans-serif" font-size="10.3" textLength="26.77" lengthAdjust="spacing">=0.15,</text>
<text transform="translate(389.97 102.6) scale(1.088 1)" font-family="Liberation Sans, sans-serif" font-size="10.3" font-style="italic">β</text>
<text x="396.20" y="102.6" font-family="Liberation Sans, sans-serif" font-size="10.3" textLength="22.05" lengthAdjust="spacing">=0.2</text>
</g>
<g fill="#000" stroke="#000" stroke-width="0.2">
<text transform="translate(10.9 150.8) rotate(-90) scale(1 1.11)" font-family="Liberation Sans, sans-serif" font-size="13.5">Ω</text>
<text transform="translate(13.9 140.5) rotate(-90) scale(0.8 1)" font-family="Liberation Sans, sans-serif" font-style="italic" font-size="10.3">D</text>
<text x="230.6" y="296.0" stroke="none" font-family="Liberation Sans, sans-serif" font-weight="bold" font-size="14.4">z</text>
</g>
</g>
</svg>
</body></html>
